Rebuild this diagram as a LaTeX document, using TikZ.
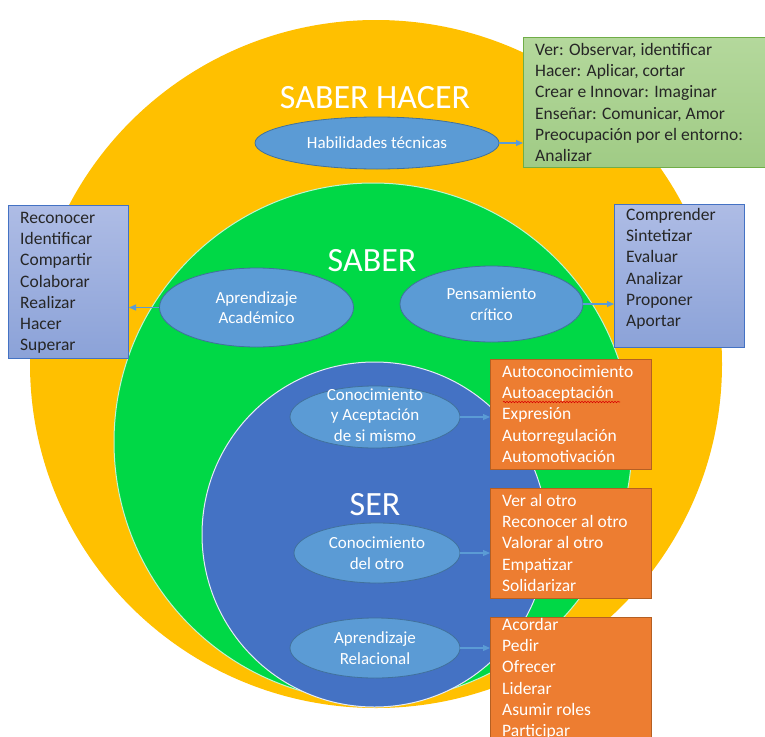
\documentclass[tikz,border=0pt]{standalone}
\usepackage{fontspec}
\setmainfont{Carlito}
\usetikzlibrary{shapes.geometric,arrows.meta,decorations.pathmorphing}
\definecolor{yellowC}{HTML}{FFC000}
\definecolor{greenC}{HTML}{00D846}
\definecolor{blueC}{HTML}{4472C4}
\definecolor{ovalFill}{HTML}{5B9BD5}
\definecolor{ovalBorder}{HTML}{41719C}
\definecolor{orangeFill}{HTML}{ED7D31}
\definecolor{orangeBorder}{HTML}{B55F22}
\definecolor{bboxTop}{HTML}{AEBCE5}
\definecolor{bboxBot}{HTML}{8BA2D8}
\definecolor{bboxBorder}{HTML}{4472C4}
\definecolor{gboxTop}{HTML}{B4D89C}
\definecolor{gboxBot}{HTML}{A0CB85}
\definecolor{gboxBorder}{HTML}{70AD47}
\definecolor{linkC}{HTML}{5B9BD5}
\definecolor{darkText}{HTML}{262626}
\begin{document}
\begin{tikzpicture}[x=1pt,y=-1pt,
  oval/.style={ellipse, draw=ovalBorder, line width=0.8pt, fill=ovalFill, inner sep=0pt},
  ovaltext/.style={text=white, align=center, inner sep=0pt, font=\fontsize{17}{20.5}\selectfont},
  listbox/.style={rectangle, inner sep=0pt, anchor=north west, line width=1pt},
  bluebox/.style={listbox, draw=bboxBorder, top color=bboxTop, bottom color=bboxBot},
  greenbox/.style={listbox, draw=gboxBorder, top color=gboxTop, bottom color=gboxBot},
  orangebox/.style={listbox, draw=orangeBorder, fill=orangeFill},
  listtext/.style={anchor=north west, inner sep=0pt, align=left, text=darkText, font=\fontsize{17.5}{21.3}\selectfont},
  listtextw/.style={listtext, text=white},
  titletext/.style={text=white, anchor=base, inner sep=0pt, font=\fontsize{34}{40}\selectfont},
  link/.style={draw=linkC, line width=1.1pt, -{Triangle[length=7pt,width=6pt]}}]

\clip (0,0) rectangle (765,736);
\fill[white] (0,0) rectangle (765,736);

% zones
\path[fill=yellowC] (376,364) ellipse [x radius=346, y radius=344];
\path[fill=greenC, draw=white!75!greenC, line width=1pt] (373,442) circle [radius=259];
\path[fill=blueC, draw=white!85!blueC, line width=1pt] (374.5,534.5) circle [radius=172.5];

% titles
\node[titletext] (tSH) at (375,108) {SABER HACER};
\node[titletext] (tS) at (372,271) {SABER};
\node[titletext] (tSer) at (375,515) {SER};

% ovals
\node[oval, minimum width=244, minimum height=52] (hab) at (377,143) {};
\node[ovaltext] (habT) at (hab) {Habilidades técnicas};
\node[oval, minimum width=194, minimum height=79] (acad) at (256.5,307.5) {};
\node[ovaltext] (acadT) at (acad) {Aprendizaje\\Académico};
\node[oval, minimum width=183, minimum height=76] (pens) at (491.5,304) {};
\node[ovaltext] (pensT) at (pens) {Pensamiento\\crítico};
\node[oval, minimum width=170, minimum height=62] (auto) at (375,417) {};
\node[ovaltext] (autoT) at ([yshift=2pt]auto.center) {Conocimiento\\y Aceptación\\de si mismo};
\node[oval, minimum width=166, minimum height=60] (otro) at (377,553) {};
\node[ovaltext] (otroT) at (otro) {Conocimiento\\del otro};
\node[oval, minimum width=170, minimum height=60] (rel) at (375,648) {};
\node[ovaltext] (relT) at (rel) {Aprendizaje\\Relacional};

% boxes
\node[greenbox, minimum width=245, minimum height=130] (gbox) at (523,37) {};
\node[listtext] (gT) at (535,40) {\strut Ver: Observar, identificar\\Hacer: Aplicar, cortar\\Crear e Innovar: Imaginar\\Enseñar: Comunicar, Amor\\Preocupación por el entorno:\\Analizar};

\node[bluebox, minimum width=120, minimum height=153] (lbox) at (8,205) {};
\node[listtext] (lT) at (20,208) {\strut Reconocer\\Identificar\\Compartir\\Colaborar\\Realizar\\Hacer\\Superar};

\node[bluebox, minimum width=130, minimum height=143] (rbox) at (614,204) {};
\node[listtext] (rT) at (626,205) {\strut Comprender\\Sintetizar\\Evaluar\\Analizar\\Proponer\\Aportar};

\node[orangebox, minimum width=161, minimum height=110] (ob1) at (490,359) {};
\node[listtextw] (ob1T) at (502,362) {\strut Autoconocimiento\\Autoaceptación\\Expresión\\Autorregulación\\Automotivación};

\node[orangebox, minimum width=161, minimum height=110] (ob2) at (490,488) {};
\node[listtextw] (ob2T) at (502,491) {\strut Ver al otro\\Reconocer al otro\\Valorar al otro\\Empatizar\\Solidarizar};

\node[orangebox, minimum width=161, minimum height=150] (ob3) at (490,617) {};
\node[listtextw] (ob3T) at (502,615) {\strut Acordar\\Pedir\\Ofrecer\\Liderar\\Asumir roles\\Participar};

% spell-check underline
\draw[red!85!black, line width=0.6pt, decorate, decoration={snake, amplitude=0.7pt, segment length=3pt}] (503,402) -- (620,402);

% links
\draw[link] (hab.east) -- (hab.east -| gbox.west);
\draw[link] (acad.west) -- (acad.west -| lbox.east);
\draw[link] (pens.east) -- (pens.east -| rbox.west);
\draw[link] (auto.east) -- (auto.east -| ob1.west);
\draw[link] (otro.east) -- (otro.east -| ob2.west);
\draw[link] (rel.east) -- (rel.east -| ob3.west);
\end{tikzpicture}
\end{document}
